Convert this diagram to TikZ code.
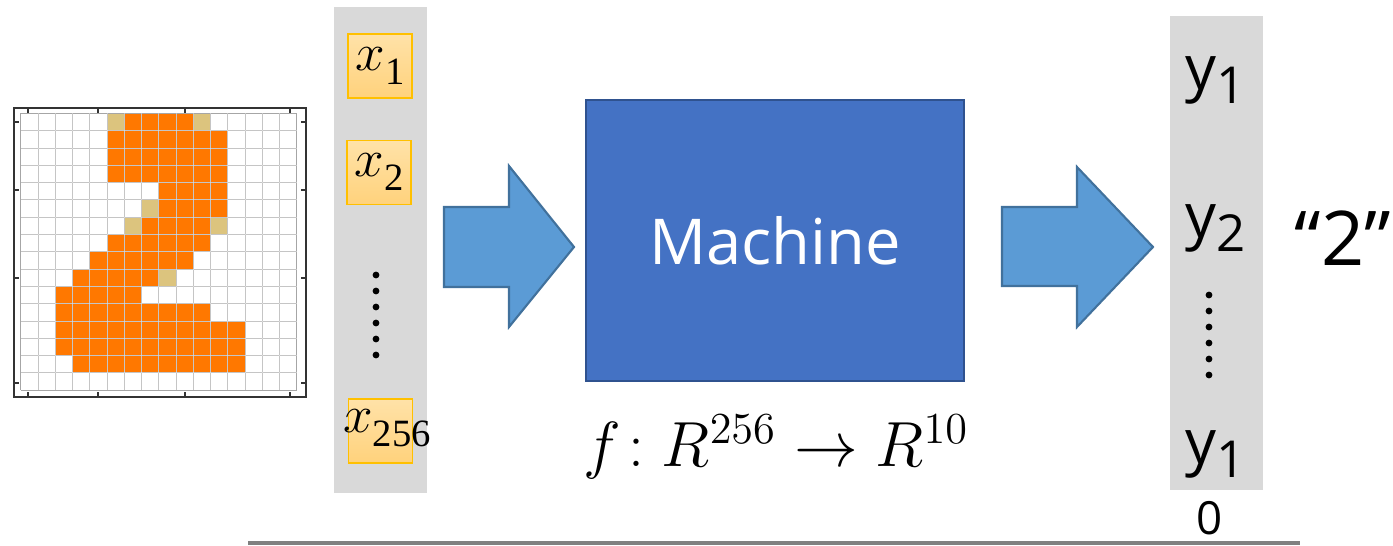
\documentclass[tikz,border=0pt]{standalone}
\usepackage{graphicx}
\usepackage{fontspec}
\setmainfont{Liberation Serif}
\newfontfamily\uifont{Open Sans}
\usetikzlibrary{positioning}
\usetikzlibrary{calc}

\definecolor{barfill}{HTML}{D9D9D9}
\definecolor{boxline}{HTML}{FFC000}
\definecolor{boxtop}{HTML}{FFE2A8}
\definecolor{boxbot}{HTML}{FFD27C}
\definecolor{arrfill}{HTML}{5B9BD5}
\definecolor{arrline}{HTML}{41719C}
\definecolor{machfill}{HTML}{4472C4}
\definecolor{machline}{HTML}{2F528F}
\definecolor{pixorange}{HTML}{FF7800}
\definecolor{pixtan}{HTML}{DCC47E}

% subscripted labels for the input and output columns
\newcommand{\xin}[1]{\scalebox{1.75}{\fontsize{17}{17}\selectfont$x$}\raisebox{-8pt}{\fontsize{22}{22}\selectfont #1}}
\newcommand{\yout}[1]{{\fontsize{35}{35}\selectfont y}\raisebox{-8pt}{\fontsize{29}{29}\selectfont #1}}

\begin{document}
\begin{tikzpicture}[x=0.02cm, y=-0.02cm,
  colbar/.style={rectangle, fill=barfill, inner sep=0pt},
  xbox/.style={rectangle, draw=boxline, line width=0.8pt, top color=boxtop, bottom color=boxbot, minimum size=1.28cm, inner sep=0pt},
  ylab/.style={inner sep=0pt, font=\uifont},
  machbox/.style={rectangle, draw=machline, line width=1pt, fill=machfill, minimum width=7.56cm, minimum height=5.62cm, text=white, font=\uifont\fontsize{36}{40}\selectfont},
  blockarrow/.style={fill=arrfill, draw=arrline, line width=1.2pt, line join=miter},
  pixon/.style={fill=pixorange},
  pixhalf/.style={fill=pixtan},
  gridline/.style={draw=gray!70, line width=0.35pt},
  dotmark/.style={fill=black},
  node distance=0.5cm]
\useasboundingbox (0,0) rectangle (1393,546);

% the 16x16 digit image
\begin{scope}[shift={(20.7,113.3)}, x=0.345cm, y=-0.346cm]
  \foreach \r/\a/\b in {0/6/9, 1/5/11, 2/5/11, 3/5/11, 4/8/11, 5/8/11, 6/7/10, 7/5/10,
                        8/4/9, 9/3/7, 10/2/6, 11/2/10, 12/2/12, 13/2/12, 14/3/12}
    \fill[pixon] (\a,\r) rectangle (\b+1,\r+1);
  \foreach \c/\r in {5/0, 10/0, 7/5, 6/6, 11/6, 8/9}
    \fill[pixhalf] (\c,\r) rectangle (\c+1,\r+1);
  \foreach \i in {0,...,16} {
    \draw[gridline] (\i,0) -- (\i,16);
    \draw[gridline] (0,\i) -- (16,\i);
  }
  \foreach \i in {1,...,15} {
    \draw[white, opacity=0.35, line width=0.35pt] (\i,0) -- (\i,16);
    \draw[white, opacity=0.35, line width=0.35pt] (0,\i) -- (16,\i);
  }
\end{scope}
\draw[black!80, line width=1.3pt] (14,108) rectangle (306,397);
\foreach \t in {28,98,185,290} {
  \draw[black!80, line width=1pt] (\t,108) -- (\t,113);
  \draw[black!80, line width=1pt] (\t,397) -- (\t,392);
}
\foreach \t in {122,190,278,383} {
  \draw[black!80, line width=1pt] (14,\t) -- (19,\t);
  \draw[black!80, line width=1pt] (306,\t) -- (301,\t);
}

% input column
\node[colbar, minimum width=1.86cm, minimum height=9.72cm] (incol) at (380.5,250) {};
\node[xbox] (x1) at (380,66) {\xin{1}};
\node[xbox] (x2) at (379,172.5) {\xin{2}};
\node[xbox] (xlast) at (380.5,431) {};
\node[inner sep=0pt] (xlastlab) at (387,428) {\xin{256}};
\foreach \k in {0,...,5}
  \fill[dotmark] (376,275+16*\k) circle (3.4);

% machine
\node[machbox] (machine) at (775,240.5) {Machine};
\node[inner sep=0pt] (func) at (776,447) {\scalebox{1.75}{\fontsize{20}{24}\selectfont$f\!:R^{256}\rightarrow R^{10}$}};

% block arrows
\draw[blockarrow] (444,207) -- (509,207) -- (509,166) -- (574,247) -- (509,327) -- (509,287) -- (444,287) -- cycle;
\draw[blockarrow] (1002,207) -- (1077,207) -- (1077,167) -- (1153,247) -- (1077,327) -- (1077,286) -- (1002,286) -- cycle;

% output column
\node[colbar, minimum width=1.86cm, minimum height=9.48cm] (outcol) at (1216.5,253) {};
\node[ylab] (y1) at (1216,80) {\yout{1}};
\node[ylab] (y2) at (1216,228) {\yout{2}};
\node[ylab] (ylast) at (1216,454) {\yout{1}};
\node[ylab, font=\uifont\fontsize{26}{26}\selectfont] (ylastrest) at (1210,518) {0};
\foreach \k in {0,...,5}
  \fill[dotmark] (1209,295+16*\k) circle (3.4);

\node[ylab, font=\uifont\fontsize{43}{43}\selectfont] (answer) at (1343,238) {“2”};

\draw[gray, line width=2.3pt] (248,543) -- (1300,543);
\end{tikzpicture}
\end{document}
